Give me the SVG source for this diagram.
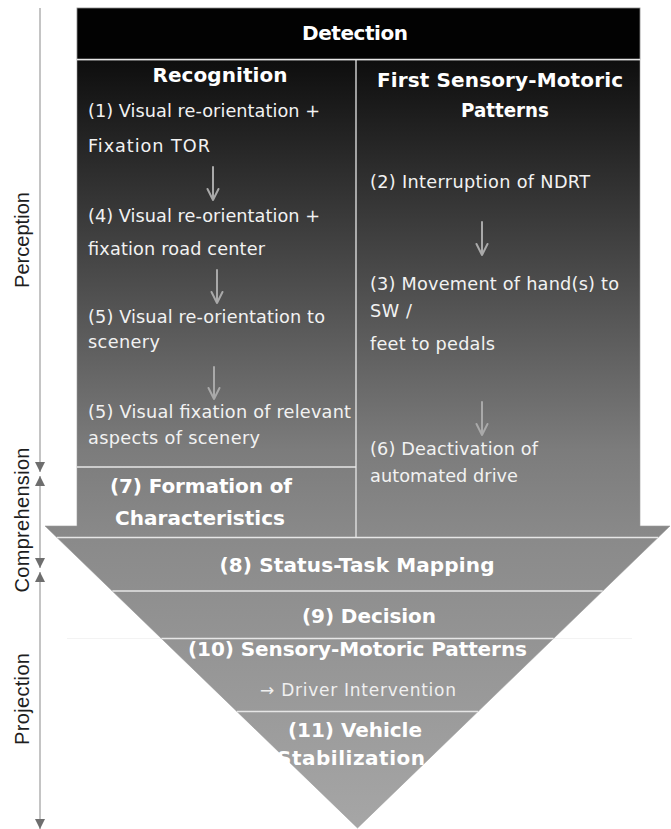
<svg xmlns="http://www.w3.org/2000/svg" width="671" height="829" viewBox="0 0 671 829">
<defs>
  <linearGradient id="grad" gradientUnits="userSpaceOnUse" x1="0" y1="60" x2="0" y2="828">
    <stop offset="0" stop-color="#0e0e0e"/>
    <stop offset="0.26" stop-color="#464646"/>
    <stop offset="0.508" stop-color="#7c7c7c"/>
    <stop offset="0.625" stop-color="#8a8a8a"/>
    <stop offset="1" stop-color="#a6a6a6"/>
  </linearGradient>
  <marker id="axDown" viewBox="0 0 10 10" refX="10" refY="5" markerWidth="10" markerHeight="10" markerUnits="userSpaceOnUse" orient="auto">
    <path d="M0,0 L10,5 L0,10 Z" fill="#6e6e6e"/>
  </marker>
  <marker id="axUp" viewBox="0 0 10 10" refX="0" refY="5" markerWidth="10" markerHeight="10" markerUnits="userSpaceOnUse" orient="auto">
    <path d="M10,0 L0,5 L10,10 Z" fill="#6e6e6e"/>
  </marker>
  <style>
    .axis { stroke: #c4c4c4; stroke-width: 2; fill: none; }
    .axlbl { font-family: "Liberation Sans", Arial, sans-serif; font-size: 20px; fill: #1e1e1e; }
    .title { font-family: "DejaVu Sans", "Noto Sans", sans-serif; font-weight: bold; font-size: 20px; fill: #ffffff; text-anchor: middle; }
    .body { font-family: "DejaVu Sans", "Noto Sans", sans-serif; font-size: 17.7px; fill: #f2f2f2; }
    .sub { font-family: "DejaVu Sans", "Noto Sans", sans-serif; font-size: 17px; fill: #f0f0f0; text-anchor: middle; }
    .div { stroke: #e6e6e6; stroke-width: 1.3; fill: none; }
    .flow { stroke: #a9a9a9; stroke-width: 2; fill: none; stroke-linecap: round; stroke-linejoin: round; }
  </style>
</defs>

<g id="axis">
  <line class="axis" x1="40" y1="8" x2="40" y2="472" marker-end="url(#axDown)"/>
  <line class="axis" x1="40" y1="476" x2="40" y2="568" marker-start="url(#axUp)" marker-end="url(#axDown)"/>
  <line class="axis" x1="40" y1="572" x2="40" y2="829" marker-start="url(#axUp)" marker-end="url(#axDown)"/>
  <text class="axlbl" transform="translate(29,240) rotate(-90)" text-anchor="middle" textLength="96">Perception</text>
  <text class="axlbl" transform="translate(29,520) rotate(-90)" text-anchor="middle" textLength="145">Comprehension</text>
  <text class="axlbl" transform="translate(29,699) rotate(-90)" text-anchor="middle" textLength="92">Projection</text>
</g>

<g id="shape">
  <line x1="67" y1="638.5" x2="632" y2="638.5" stroke="#f3f3f3" stroke-width="1"/>
  <polygon points="77,60 640,60 640,526 670,526 357.5,828 45,526 77,526" fill="url(#grad)" stroke="#9a9a9a" stroke-width="0.6"/>
</g>

<g id="detection">
  <rect x="77" y="8" width="563" height="51.5" fill="#020202" stroke="#8a8a8a" stroke-width="0.8"/>
  <line class="div" x1="77" y1="59.5" x2="640" y2="59.5"/>
  <text class="title" x="355" y="40" textLength="106">Detection</text>
</g>

<g id="recognition">
  <text class="title" x="220" y="82" textLength="135">Recognition</text>
  <text class="body" x="88" y="117" textLength="232">(1) Visual re-orientation +</text>
  <text class="body" x="88" y="152" textLength="122">Fixation TOR</text>
  <text class="body" x="88" y="222" textLength="232">(4) Visual re-orientation +</text>
  <text class="body" x="88" y="255" textLength="177">fixation road center</text>
  <text class="body" x="88" y="323" textLength="237">(5) Visual re-orientation to</text>
  <text class="body" x="88" y="348" textLength="72">scenery</text>
  <text class="body" x="88" y="418" textLength="263">(5) Visual fixation of relevant</text>
  <text class="body" x="88" y="444" textLength="172">aspects of scenery</text>
</g>

<g id="sensory-motoric">
  <line class="div" x1="356" y1="60" x2="356" y2="537.5"/>
  <text class="title" x="500" y="87" textLength="246">First Sensory-Motoric</text>
  <text class="title" x="505" y="117" textLength="88" lengthAdjust="spacingAndGlyphs">Patterns</text>
  <text class="body" x="370" y="188" textLength="220">(2) Interruption of NDRT</text>
  <text class="body" x="370" y="290" textLength="249">(3) Movement of hand(s) to</text>
  <text class="body" x="370" y="317" textLength="42">SW /</text>
  <text class="body" x="370" y="350" textLength="125">feet to pedals</text>
  <text class="body" x="370" y="455" textLength="168">(6) Deactivation of</text>
  <text class="body" x="370" y="482" textLength="148">automated drive</text>
</g>

<g id="formation">
  <line class="div" x1="77" y1="467" x2="356" y2="467"/>
  <text class="title" x="201" y="493" textLength="182">(7) Formation of</text>
  <text class="title" x="200" y="525" textLength="170">Characteristics</text>
</g>

<g id="status-task">
  <line class="div" x1="56.9" y1="537.5" x2="658.1" y2="537.5"/>
  <text class="title" x="357" y="572" textLength="275">(8) Status-Task Mapping</text>
</g>

<g id="decision">
  <line class="div" x1="112.3" y1="591" x2="602.7" y2="591"/>
  <text class="title" x="369" y="623" textLength="134">(9) Decision</text>
</g>

<g id="sensory-motoric-patterns">
  <line class="div" x1="161.4" y1="638.5" x2="553.6" y2="638.5"/>
  <text class="title" x="357.5" y="656" textLength="339">(10) Sensory-Motoric Patterns</text>
  <text class="sub" x="358" y="696" textLength="196">→ Driver Intervention</text>
</g>

<g id="vehicle-stabilization">
  <line class="div" x1="237" y1="711.5" x2="478" y2="711.5"/>
  <text class="title" x="355" y="737" textLength="134">(11) Vehicle</text>
  <text class="title" x="351" y="765" textLength="148">Stabilization</text>
</g>

<g id="connectors">
  <path class="flow" d="M213,167 V200 M207.5,189 L213,200 L218.5,189"/>
  <path class="flow" d="M217,270 V303 M211.5,292 L217,303 L222.5,292"/>
  <path class="flow" d="M214,367 V399 M208.5,388 L214,399 L219.5,388"/>
  <path class="flow" d="M482,222 V255 M476.5,244 L482,255 L487.5,244"/>
  <path class="flow" d="M482,402 V435 M476.5,424 L482,435 L487.5,424"/>
</g>
</svg>
